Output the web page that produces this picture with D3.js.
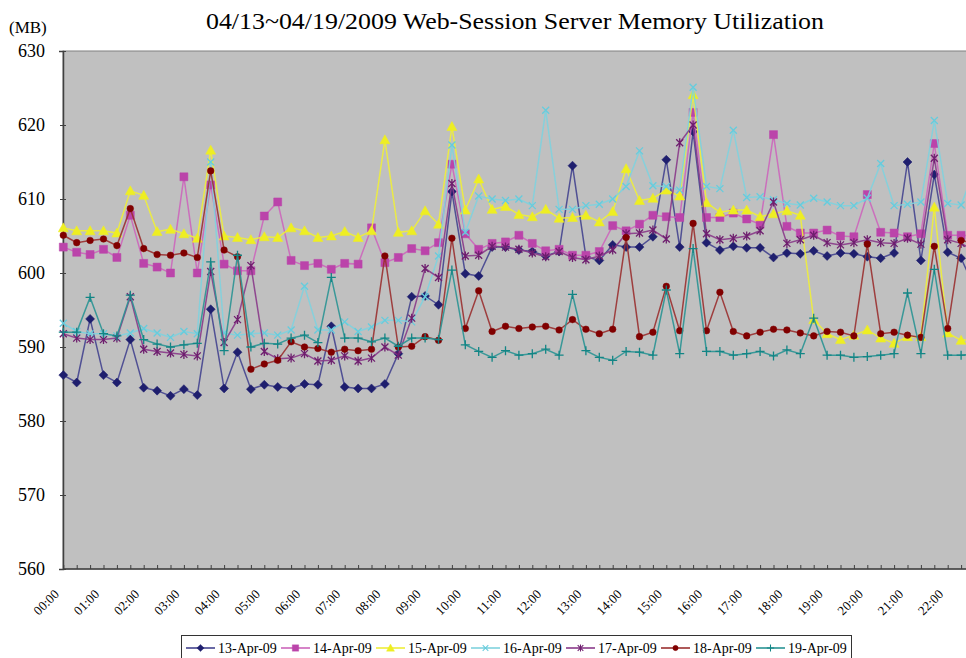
<!DOCTYPE html>
<html>
<head>
<meta charset="utf-8">
<script src="https://cdn.jsdelivr.net/npm/d3@7"></script>
<style>
  body { margin: 0; background: #fff; }
  svg { display: block; font-family: 'Liberation Serif', 'Times New Roman', serif; }
</style>
</head>
<body>
<script>
var dates = ['13-Apr-09', '14-Apr-09', '15-Apr-09', '16-Apr-09', '17-Apr-09', '18-Apr-09', '19-Apr-09'];

var hourLabels = ['00:00', '01:00', '02:00', '03:00', '04:00', '05:00', '06:00', '07:00', '08:00', '09:00', '10:00', '11:00',
  '12:00', '13:00', '14:00', '15:00', '16:00', '17:00', '18:00', '19:00', '20:00', '21:00', '22:00'];

var yTicks = [560, 570, 580, 590, 600, 610, 620, 630];

// one reading every 20 minutes
var apr13 = [586.2, 585.2, 593.8, 586.2, 585.2, 591.0, 584.5, 584.1, 583.4, 584.3, 583.5, 595.1, 584.4, 589.3, 584.3, 584.9,
  584.6, 584.4, 585.0, 584.9, 592.8, 584.6, 584.4, 584.4, 585.0, 589.1, 596.8, 596.9, 595.7, 611.0, 599.9, 599.6,
  603.5, 603.5, 603.1, 602.9, 602.3, 602.9, 614.5, 602.2, 601.7, 603.8, 603.5, 603.5, 604.9, 615.3, 603.5, 619.1,
  604.1, 603.1, 603.6, 603.4, 603.4, 602.1, 602.7, 602.6, 603.0, 602.3, 602.7, 602.6, 602.2, 602.0, 602.7, 615.0,
  601.7, 613.3, 602.8, 602.0, 598.0];
var apr14 = [603.5, 602.8, 602.5, 603.2, 602.1, 607.8, 601.3, 600.8, 600.0, 613.0, 600.0, 611.9, 601.2, 600.3, 600.3, 607.7,
  609.6, 601.7, 601.0, 601.3, 600.5, 601.3, 601.2, 606.1, 601.4, 602.1, 603.3, 603.0, 604.1, 614.7, 605.3, 603.2,
  604.0, 604.2, 605.1, 604.0, 603.0, 603.2, 602.4, 602.4, 602.9, 606.4, 605.7, 606.6, 607.8, 607.6, 607.5, 621.7,
  607.5, 607.5, 608.1, 607.3, 606.6, 618.7, 606.3, 605.4, 605.4, 605.8, 605.0, 604.9, 610.6, 605.5, 605.4, 604.9,
  605.3, 617.5, 605.1, 605.1, 605.0];
var apr15 = [606.1, 605.7, 605.7, 605.7, 605.4, 611.1, 610.5, 605.6, 605.9, 605.3, 604.7, 616.6, 605.0, 604.8, 604.5, 604.9,
  604.8, 606.1, 605.7, 604.8, 605.0, 605.6, 604.8, 605.7, 618.0, 605.5, 605.7, 608.4, 606.6, 619.8, 608.5, 612.7,
  608.6, 609.0, 607.9, 607.6, 608.6, 607.4, 607.5, 607.8, 606.9, 608.3, 614.1, 609.8, 610.1, 611.2, 610.4, 624.1,
  609.5, 608.2, 608.5, 608.5, 607.6, 608.0, 608.4, 607.8, 593.7, 591.8, 591.0, 591.6, 592.3, 591.2, 590.5, 591.4,
  591.4, 608.9, 591.9, 590.9, 591.0];
var apr16 = [593.2, 592.1, 591.8, 591.8, 591.5, 591.9, 592.5, 591.9, 591.3, 592.1, 591.8, 615.0, 591.9, 591.6, 591.8, 591.9,
  591.6, 592.3, 598.2, 592.3, 592.3, 593.4, 592.1, 592.7, 593.6, 593.6, 593.4, 596.8, 602.3, 617.3, 605.5, 610.4,
  610.0, 609.8, 610.0, 609.1, 622.0, 608.6, 608.6, 609.1, 609.3, 610.0, 611.7, 616.5, 611.8, 611.7, 611.2, 625.1,
  611.7, 611.4, 619.3, 610.2, 610.3, 609.9, 609.4, 609.2, 610.1, 609.6, 609.1, 609.1, 610.1, 614.8, 609.1, 609.3,
  609.6, 620.6, 609.4, 609.2, 614.0];
var apr17 = [591.8, 591.2, 591.0, 591.0, 591.2, 596.8, 589.7, 589.4, 589.2, 589.0, 588.8, 600.2, 590.6, 593.7, 601.0, 589.4,
  588.4, 588.5, 589.1, 588.1, 588.2, 588.8, 588.1, 588.5, 590.0, 588.9, 593.9, 600.6, 599.4, 612.1, 602.3, 602.4,
  603.6, 603.5, 603.2, 602.7, 602.2, 602.9, 602.1, 601.8, 602.3, 603.1, 605.3, 605.4, 605.8, 604.6, 617.6, 620.0,
  605.3, 604.5, 604.7, 605.0, 605.7, 609.6, 604.0, 604.5, 605.1, 604.1, 603.8, 604.1, 604.5, 604.1, 604.0, 604.7,
  603.9, 615.5, 604.5, 604.0, 603.0];
var apr18 = [605.1, 604.1, 604.4, 604.6, 603.7, 608.7, 603.3, 602.5, 602.4, 602.7, 602.1, 613.8, 603.1, 602.2, 587.0, 587.7,
  588.2, 590.7, 590.0, 589.8, 589.3, 589.7, 589.5, 589.7, 602.3, 590.0, 590.1, 591.4, 590.9, 604.7, 592.5, 597.6,
  592.1, 592.8, 592.5, 592.7, 592.8, 592.3, 593.7, 592.4, 591.8, 592.4, 604.8, 591.4, 592.0, 598.2, 592.2, 606.7,
  592.2, 597.4, 592.1, 591.5, 592.0, 592.4, 592.3, 591.9, 591.5, 592.1, 592.0, 591.5, 603.9, 591.8, 592.0, 591.6,
  591.3, 603.6, 592.5, 604.4, 604.0];
var apr19 = [592.0, 592.0, 596.7, 591.8, 591.5, 597.0, 591.0, 590.4, 590.0, 590.3, 590.5, 601.5, 589.5, 602.4, 590.0, 590.5,
  590.4, 591.2, 591.6, 590.6, 599.4, 591.2, 591.2, 590.7, 591.2, 590.1, 591.2, 591.2, 591.0, 600.4, 590.3, 589.4,
  588.6, 589.5, 588.9, 589.1, 589.7, 588.9, 597.1, 589.5, 588.6, 588.2, 589.4, 589.3, 588.9, 597.7, 589.1, 603.3,
  589.4, 589.4, 588.9, 589.1, 589.4, 588.8, 589.6, 589.1, 593.9, 588.9, 588.9, 588.6, 588.7, 588.9, 589.1, 597.3,
  589.1, 600.5, 588.9, 588.9, 589.0];

var values = [apr13, apr14, apr15, apr16, apr17, apr18, apr19];

var lineColors = ['#44448f', '#cc66bb', '#eeee3a', '#80d2de', '#8a3a8a', '#9a3030', '#2a9494'];
var markColors = ['#1f1f6e', '#bb44aa', '#eeee22', '#66ccdd', '#6e1e6e', '#800000', '#128585'];

var markers = [
  {d: 'M0,-4.5L4.5,0L0,4.5L-4.5,0Z', fill: true},
  {d: 'M-4,-4H4V4H-4Z', fill: true},
  {d: 'M0,-5L5,4L-5,4Z', fill: true},
  {d: 'M-3.5,-3.5L3.5,3.5M-3.5,3.5L3.5,-3.5', fill: false},
  {d: 'M-3.5,-3.5L3.5,3.5M-3.5,3.5L3.5,-3.5M0,-4.5V4.5', fill: false},
  {d: 'M-3.3,0A3.3,3.3 0 1,0 3.3,0A3.3,3.3 0 1,0 -3.3,0Z', fill: true},
  {d: 'M-4.5,0H4.5M0,-4.5V4.5', fill: false}
];

var slots = d3.range(apr13.length).map(function(i) {
  var h = Math.floor(i / 3), m = (i % 3) * 20;
  return (h < 10 ? '0' : '') + h + ':' + (m < 10 ? '0' : '') + m;
});

var width = 966, height = 658;
var plot = {left: 63, top: 51, bottom: 569, right: 990};

var svg = d3.select('body').append('svg')
  .attr('width', width)
  .attr('height', height);

var x = d3.scalePoint()
  .domain(slots)
  .range([63.3, 63.3 + (slots.length - 1) * 13.4]);

var y = d3.scaleLinear()
  .domain([560, 630])
  .range([plot.bottom, plot.top]);

svg.append('rect')
  .attr('x', plot.left)
  .attr('y', plot.top)
  .attr('width', plot.right - plot.left)
  .attr('height', plot.bottom - plot.top)
  .attr('fill', '#c0c0c0')
  .attr('stroke', '#808080')
  .attr('stroke-width', 1);

svg.append('text')
  .attr('x', 206)
  .attr('y', 29)
  .attr('textLength', 618)
  .attr('lengthAdjust', 'spacingAndGlyphs')
  .style('font-size', '24px')
  .text('04/13~04/19/2009 Web-Session Server Memory Utilization');

svg.append('text')
  .attr('x', 9)
  .attr('y', 33)
  .style('font-size', '17px')
  .text('(MB)');

var yAxis = svg.append('g')
  .attr('transform', 'translate(' + plot.left + ',0)')
  .call(d3.axisLeft(y).tickValues(yTicks).tickSize(4).tickPadding(14).tickFormat(d3.format('d')));
yAxis.select('.domain').attr('stroke', '#404040').attr('stroke-width', 1.5);
yAxis.selectAll('line').attr('stroke', '#404040').attr('x2', 3).attr('x1', -3);
yAxis.selectAll('text')
  .style('font-size', '18px')
  .style('font-family', "'Liberation Serif', serif")
  .attr('fill', '#000')
  .attr('dy', '0.3em');

var xTicks = svg.append('g')
  .attr('transform', 'translate(0,' + plot.bottom + ')')
  .call(d3.axisBottom(x).tickSize(-4).tickFormat(''));
xTicks.select('.domain').attr('stroke', '#404040').attr('stroke-width', 1.5)
  .attr('d', 'M' + plot.left + ',0H' + width);
xTicks.selectAll('line').attr('stroke', '#404040');

var xLabels = svg.append('g')
  .attr('transform', 'translate(0,' + plot.bottom + ')')
  .call(d3.axisBottom(x).tickValues(hourLabels).tickSize(0));
xLabels.select('.domain').remove();
xLabels.selectAll('text')
  .style('font-size', '13px')
  .style('font-family', "'Liberation Serif', serif")
  .attr('fill', '#000')
  .attr('text-anchor', 'end')
  .attr('x', -4)
  .attr('y', 26)
  .attr('dy', 0)
  .attr('transform', 'rotate(-45,-4,26)');

var line = d3.line()
  .x(function(d, i) { return x(slots[i]); })
  .y(function(d) { return y(d); });

var series = svg.selectAll('.series')
  .data(values)
  .enter()
  .append('g')
  .attr('class', 'series');

series.append('path')
  .attr('d', line)
  .attr('fill', 'none')
  .attr('stroke', function(d, i) { return lineColors[i]; })
  .attr('stroke-width', 1.5)
  .attr('stroke-opacity', 0.9);

series.each(function(vals, k) {
  d3.select(this).selectAll('.mark')
    .data(vals)
    .enter()
    .append('path')
    .attr('class', 'mark')
    .attr('d', markers[k].d)
    .attr('transform', function(d, i) { return 'translate(' + x(slots[i]) + ',' + y(d) + ')'; })
    .attr('fill', markers[k].fill ? markColors[k] : 'none')
    .attr('stroke', markColors[k])
    .attr('stroke-width', markers[k].fill ? 0.5 : 1.3);
});

var legend = svg.append('g');

legend.append('rect')
  .attr('x', 181.5)
  .attr('y', 635.5)
  .attr('width', 670)
  .attr('height', 40)
  .attr('fill', '#fff')
  .attr('stroke', '#333')
  .attr('stroke-width', 1);

var item = legend.selectAll('.item')
  .data(dates)
  .enter()
  .append('g')
  .attr('class', 'item')
  .attr('transform', function(d, i) { return 'translate(' + (186 + i * 95) + ',648)'; });

item.append('line')
  .attr('x1', 0)
  .attr('x2', 29)
  .attr('stroke', function(d, i) { return lineColors[i]; })
  .attr('stroke-width', 1.6);

item.append('path')
  .attr('d', function(d, i) { return markers[i].d; })
  .attr('transform', 'translate(14.5,0) scale(0.8)')
  .attr('fill', function(d, i) { return markers[i].fill ? markColors[i] : 'none'; })
  .attr('stroke', function(d, i) { return markColors[i]; })
  .attr('stroke-width', function(d, i) { return markers[i].fill ? 0.5 : 1.3; });

item.append('text')
  .attr('x', 32)
  .attr('y', 5)
  .style('font-size', '14px')
  .text(function(d) { return d; });
</script>
</body>
</html>
